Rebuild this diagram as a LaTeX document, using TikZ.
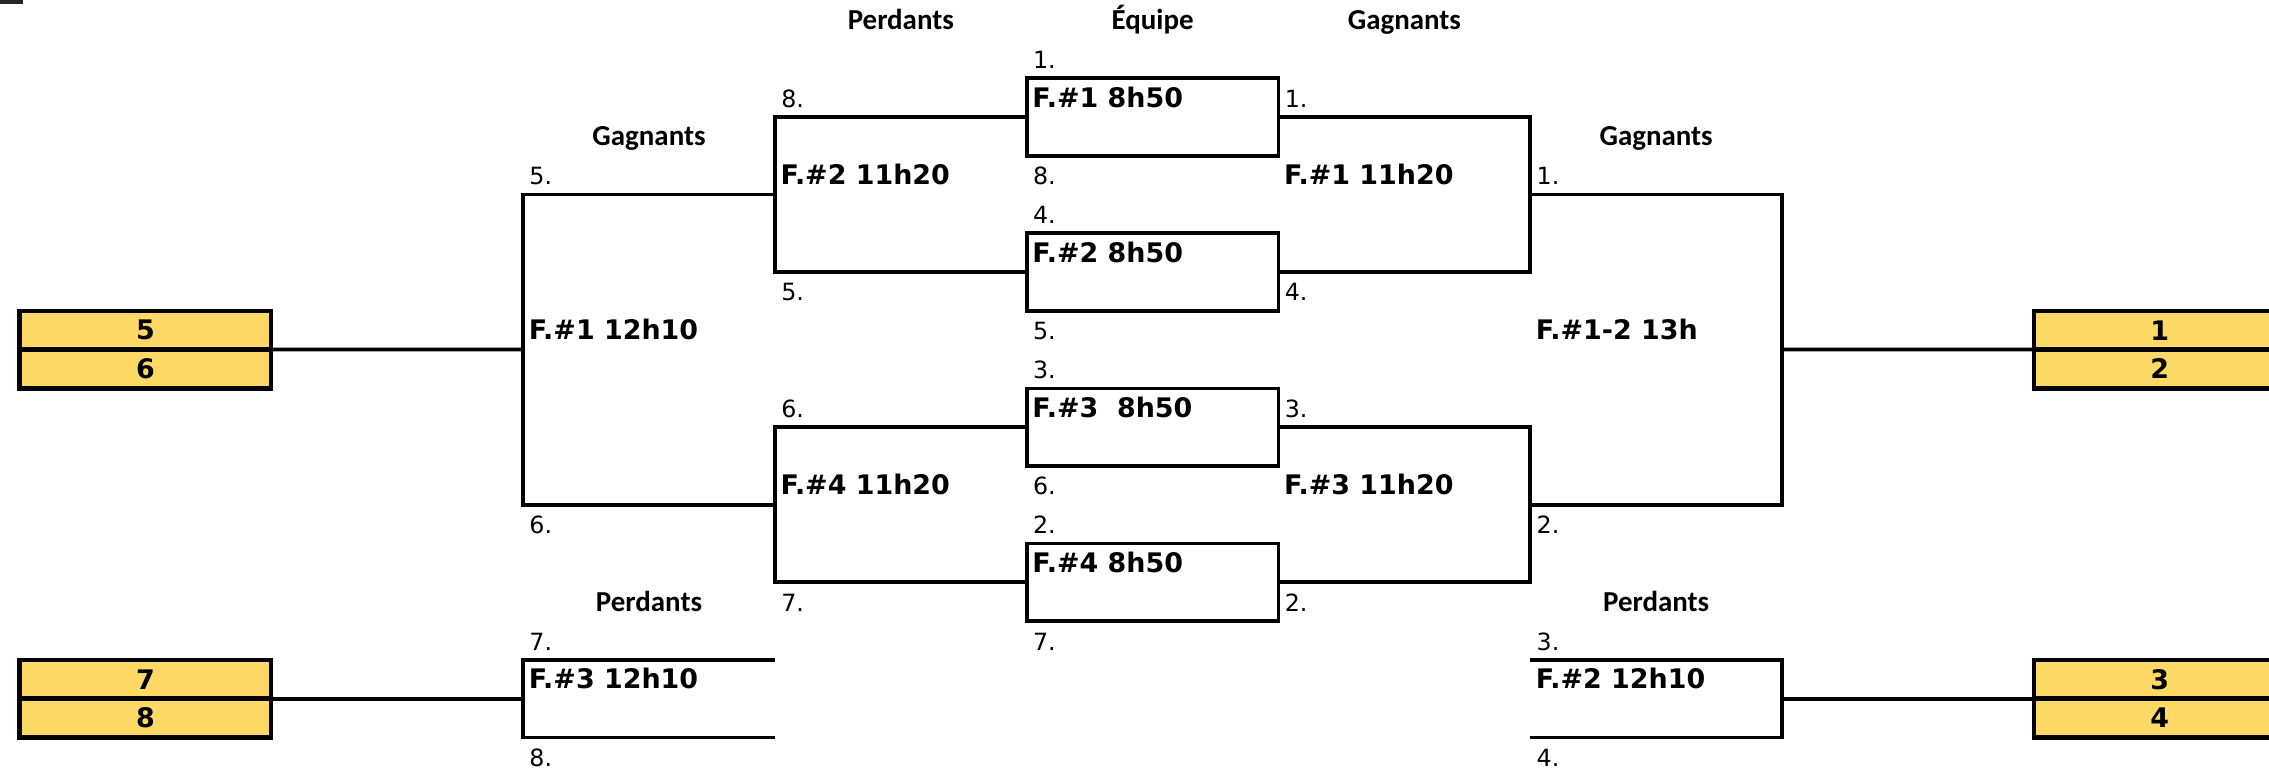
\documentclass[tikz,border=0pt]{standalone}
\usepackage{fontspec}
\setmainfont{DejaVu Sans}
\newfontfamily\hdrfont{Carlito}
\definecolor{seedyellow}{RGB}{255,217,102}
\begin{document}
\begin{tikzpicture}[x=0.5pt,y=-0.5pt,
  ln/.style={line width=1.3pt},
  lab/.style={font=\fontsize{8.2}{9.8}\selectfont, anchor=base west, inner sep=0pt},
  ttl/.style={font=\bfseries\fontsize{9.3}{11}\selectfont, anchor=base west, inner sep=0pt},
  hdr/.style={font=\hdrfont\bfseries\fontsize{10}{12}\selectfont, anchor=base, inner sep=0pt},
  seed/.style={draw, line width=1.5pt, fill=seedyellow, minimum width=87pt, minimum height=13.4pt, inner sep=0pt, outer sep=0pt, font=\bfseries\fontsize{9.3}{11}\selectfont},
  matchbox/.style={draw, line width=1.3pt, minimum width=87pt, minimum height=26.8pt, inner sep=0pt, outer sep=0pt}]
\useasboundingbox (0,0) rectangle (1568,533.5);
\fill[black!85] (0,0) rectangle (16,2.8);

% headers
\node[hdr] (hP) at (622.5,20.4) {Perdants};
\node[hdr] (hE) at (796.5,20.4) {Équipe};
\node[hdr] (hG) at (970.5,20.4) {Gagnants};
\node[hdr] (hGL) at (448.5,100.8) {Gagnants};
\node[hdr] (hGR) at (1144.5,100.8) {Gagnants};
\node[hdr] (hPL) at (448.5,422.4) {Perdants};
\node[hdr] (hPR) at (1144.5,422.4) {Perdants};

% seed boxes
\node[seed] (s5) at (100.5,228.2) {5};
\node[seed] (s6) at (100.5,255) {6};
\node[seed] (s7) at (100.5,469.4) {7};
\node[seed] (s8) at (100.5,496.2) {8};
\node[seed] (s1) at (1492.5,228.2) {1};
\node[seed] (s2) at (1492.5,255) {2};
\node[seed] (s3) at (1492.5,469.4) {3};
\node[seed] (s4) at (1492.5,496.2) {4};

% first-round match boxes
\node[matchbox] (m1) at (796.5,80.8) {};
\node[matchbox] (m2) at (796.5,188) {};
\node[matchbox] (m3) at (796.5,295.2) {};
\node[matchbox] (m4) at (796.5,402.4) {};

% bracket coordinates
\coordinate (dUb) at (535.5,188);
\coordinate (dLb) at (535.5,402.4);
\coordinate (dUm) at (535.5,134.4);
\coordinate (dLm) at (535.5,348.8);
\coordinate (cB) at (361.5,348.8);
\coordinate (cM) at (361.5,241.6);
\coordinate (gUb) at (1057.5,188);
\coordinate (gLb) at (1057.5,402.4);
\coordinate (gUm) at (1057.5,134.4);
\coordinate (gLm) at (1057.5,348.8);
\coordinate (hB) at (1231.5,348.8);
\coordinate (hM) at (1231.5,241.6);
\coordinate (lT) at (535.5,456);
\coordinate (lB) at (535.5,509.6);
\coordinate (lV) at (361.5,509.6);
\coordinate (lM) at (361.5,482.8);
\coordinate (rT) at (1057.5,456);
\coordinate (rB) at (1057.5,509.6);
\coordinate (rV) at (1231.5,509.6);
\coordinate (rM) at (1231.5,482.8);

% losers side (left)
\draw[ln] (m1.west) -| (dUb) -- (m2.west);
\draw[ln] (m3.west) -| (dLb) -- (m4.west);
\draw[ln] (dUm) -| (cB) -- (dLm);
\draw[ln] (s5.south east) -- (cM);
% winners side (right)
\draw[ln] (m1.east) -| (gUb) -- (m2.east);
\draw[ln] (m3.east) -| (gLb) -- (m4.east);
\draw[ln] (gUm) -| (hB) -- (gLm);
\draw[ln] (hM) -- (s1.south west);
% consolation brackets
\draw[ln] (lT) -| (lV) -- (lB);
\draw[ln] (s7.south east) -- (lM);
\draw[ln] (rT) -| (rV) -- (rB);
\draw[ln] (rM) -- (s3.south west);

% column C labels
\node[lab] (c5) at (365.5,127.6) {5.};
\node[ttl] (cF1) at (365,234.8) {F.\#1 12h10};
\node[lab] (c6) at (365.5,368.8) {6.};
\node[lab] (c7) at (365.5,449.2) {7.};
\node[ttl] (cF3) at (365,476) {F.\#3 12h10};
\node[lab] (c8) at (365.5,529.6) {8.};

% column D labels
\node[lab] (d8) at (539.5,74) {8.};
\node[ttl] (dF2) at (539,127.6) {F.\#2 11h20};
\node[lab] (d5) at (539.5,208) {5.};
\node[lab] (d6) at (539.5,288.4) {6.};
\node[ttl] (dF4) at (539,342) {F.\#4 11h20};
\node[lab] (d7) at (539.5,422.4) {7.};

% column E labels
\node[lab] (e1) at (713.5,47.2) {1.};
\node[ttl] (eF1) at (713,74) {F.\#1 8h50};
\node[lab] (e8) at (713.5,127.6) {8.};
\node[lab] (e4) at (713.5,154.4) {4.};
\node[ttl] (eF2) at (713,181.2) {F.\#2 8h50};
\node[lab] (e5) at (713.5,234.8) {5.};
\node[lab] (e3) at (713.5,261.6) {3.};
\node[ttl] (eF3) at (713,288.4) {F.\#3\ \ 8h50};
\node[lab] (e6) at (713.5,342) {6.};
\node[lab] (e2) at (713.5,368.8) {2.};
\node[ttl] (eF4) at (713,395.6) {F.\#4 8h50};
\node[lab] (e7) at (713.5,449.2) {7.};

% column F labels
\node[lab] (f1) at (887.5,74) {1.};
\node[ttl] (fF1) at (887,127.6) {F.\#1 11h20};
\node[lab] (f4) at (887.5,208) {4.};
\node[lab] (f3) at (887.5,288.4) {3.};
\node[ttl] (fF3) at (887,342) {F.\#3 11h20};
\node[lab] (f2) at (887.5,422.4) {2.};

% column G labels
\node[lab] (g1) at (1061.5,127.6) {1.};
\node[ttl] (gF) at (1061,234.8) {F.\#1-2 13h};
\node[lab] (g2) at (1061.5,368.8) {2.};
\node[lab] (g3) at (1061.5,449.2) {3.};
\node[ttl] (gF2) at (1061,476) {F.\#2 12h10};
\node[lab] (g4) at (1061.5,529.6) {4.};
\end{tikzpicture}
\end{document}
